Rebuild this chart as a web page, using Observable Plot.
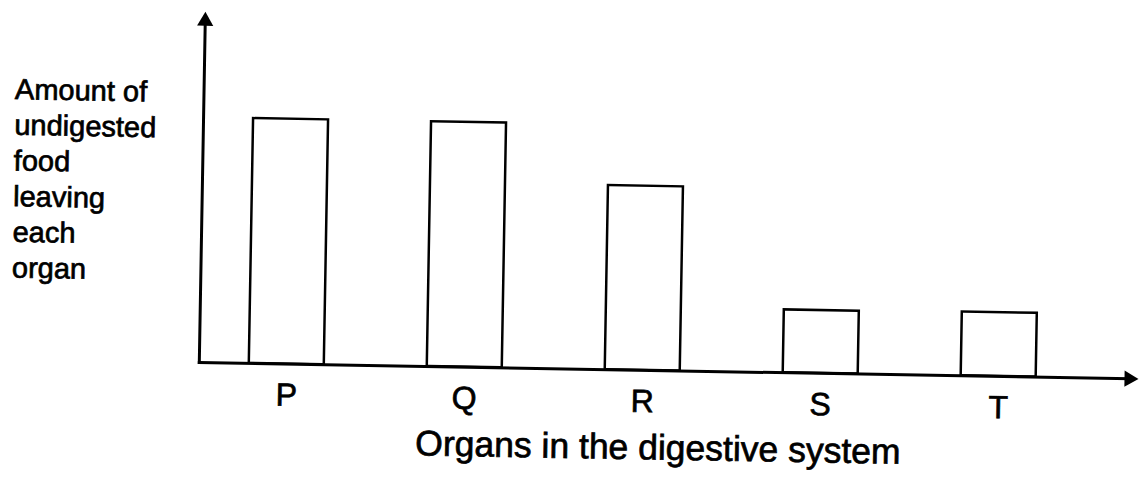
<!DOCTYPE html>
<html><head><meta charset="utf-8">
<script src="https://cdn.jsdelivr.net/npm/d3@7"></script>
<script src="https://cdn.jsdelivr.net/npm/@observablehq/plot@0.6"></script>
<style>
html,body{margin:0;padding:0;background:#fff;}
#chart svg{display:block; transform: rotate(1deg); transform-origin: 50% 50%;}
</style></head><body><div id="chart"></div>
<script>
const organs = ["P", "Q", "R", "S", "T"];
const amounts = [7.17, 7.17, 5.39, 1.84, 1.87];
const yLabelLines = ["Amount of", "undigested", "food", "leaving", "each", "organ"];
const xLabel = "Organs in the digestive system";

const data = organs.map((o, i) => ({organ: o, amount: amounts[i]}));
const font = "'Liberation Sans', Arial, Helvetica, sans-serif";

const chart = Plot.plot({
  width: 1142, height: 479,
  marginLeft: 201, marginRight: 11, marginTop: 27, marginBottom: 110.5,
  style: {fontFamily: font, fontSize: "32px", color: "#000", background: "#fff"},
  x: {type: "band", domain: organs, paddingInner: 0.58, paddingOuter: 0.395, align: 0.351},
  y: {domain: [0, 10], axis: null},
  marks: [
    Plot.barY(data, {x: "organ", y: "amount", fill: "white", stroke: "black", strokeWidth: 2.5}),
    Plot.frame({anchor: "left", stroke: "black", strokeWidth: 3}),
    Plot.frame({anchor: "bottom", stroke: "black", strokeWidth: 3}),
    Plot.dot([0], {x: null, y: null, frameAnchor: "top-left", symbol: "triangle", r: 6, fill: "black", stroke: null}),
    Plot.dot([0], {x: null, y: null, frameAnchor: "bottom-right", symbol: "triangle", r: 6, rotate: 90, fill: "black", stroke: null}),
    Plot.axisX({tickSize: 0, tickPadding: 19, fontSize: 32, label: null}),
    Plot.text([yLabelLines.join("\n")], {x: null, y: null, text: d => d, frameAnchor: "top-left", textAnchor: "start", lineAnchor: "top", lineHeight: 1.23, dx: -189, dy: 56, fontSize: 29}),
    Plot.text([xLabel], {x: null, y: null, text: d => d, frameAnchor: "bottom", dx: -5, dy: 89, fontSize: 35.5})
  ]
});
d3.select(chart).selectAll("text").attr("stroke", "black").attr("stroke-width", 0.7).attr("paint-order", "stroke");
document.getElementById("chart").appendChild(chart);
</script>
</body></html>
